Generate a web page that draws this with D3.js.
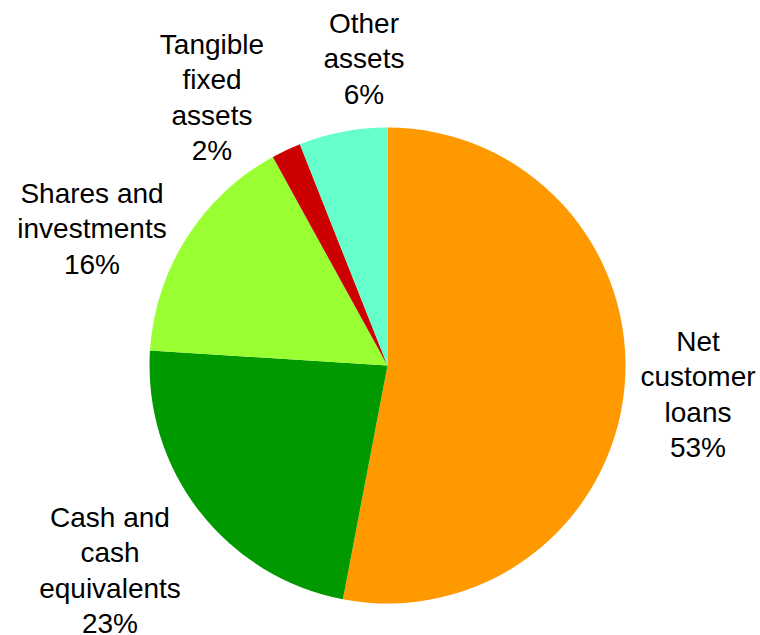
<!DOCTYPE html>
<html>
<head>
<meta charset="utf-8">
<script src="https://cdn.jsdelivr.net/npm/d3@7"></script>
<style>
  html, body { margin: 0; padding: 0; background: #fff; }
  svg { display: block; }
  text { font-family: "Liberation Sans", Arial, sans-serif; fill: #000; }
</style>
</head>
<body>
<svg id="chart" width="760" height="635"></svg>
<script>
// Balance sheet asset mix, clockwise from 12 o'clock
const categories = ["Net customer loans", "Cash and cash equivalents", "Shares and investments", "Tangible fixed assets", "Other assets"];
const labelLines = [
  ["Net", "customer", "loans"],
  ["Cash and", "cash", "equivalents"],
  ["Shares and", "investments"],
  ["Tangible", "fixed", "assets"],
  ["Other", "assets"]
];
const shares = [53, 23, 16, 2, 6];
const colors = ["#FF9900", "#009900", "#99FF33", "#CC0000", "#66FFCC"];

// Layout
const cx = 387.5, cy = 365.5, radius = 238;
const fontSize = 28, lineGap = 35.3;
// label anchor: centre x and baseline of the first line
const labelAnchor = [
  [698, 351],
  [110, 527],
  [92, 203],
  [212, 54],
  [364, 33]
];

const svg = d3.select("#chart");
const g = svg.append("g").attr("transform", `translate(${cx},${cy})`);

const pie = d3.pie().sort(null).value(d => d.v);
const arc = d3.arc().innerRadius(0).outerRadius(radius);
const data = pie(shares.map((v, i) => ({ v, i })));

g.selectAll("path.slice")
  .data(data)
  .join("path")
  .attr("class", "slice")
  .attr("d", arc)
  .attr("fill", d => colors[d.data.i]);

const total = d3.sum(shares);
const labels = svg.selectAll("text.lbl")
  .data(data)
  .join("text")
  .attr("class", "lbl")
  .attr("text-anchor", "middle")
  .attr("font-size", fontSize);

labels.each(function(d) {
  const i = d.data.i;
  const lines = labelLines[i].concat([d3.format(".0%")(d.data.v / total)]);
  const [x, y] = labelAnchor[i];
  d3.select(this).selectAll("tspan")
    .data(lines)
    .join("tspan")
    .attr("x", x)
    .attr("y", (t, k) => y + k * lineGap)
    .text(t => t);
});
</script>
</body>
</html>
